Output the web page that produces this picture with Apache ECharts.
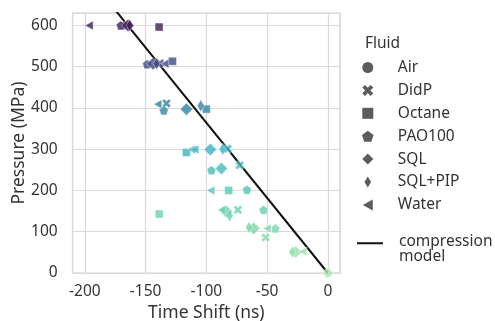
<!DOCTYPE html>
<html><head><meta charset="utf-8">
<script src="https://cdn.jsdelivr.net/npm/echarts@6/dist/echarts.min.js"></script>
<style>html,body{margin:0;padding:0;background:#fff}#c{width:495px;height:321px}</style>
</head><body><div id="c"></div>
<script>
// ---- data (Time Shift ns, Pressure MPa) ----
const airTime = [0];
const airP = [0];
const didpTime = [-165.5, -138.3, -132.8, -82.5, -72.6, -74, -51.2];
const didpP = [600, 508, 411, 301, 261, 153, 86];
const octaneTime = [-138.9, -127.9, -100, -116.4, -81.6, -138.8];
const octaneP = [596, 513, 397, 292, 200, 143];
const paoTime = [-170.4, -148.8, -135, -95.8, -66.6, -52.9, -43.2];
const paoP = [600, 506, 394, 249, 202, 153, 108];
const sqlTime = [-164.5, -143.9, -116.4, -96.7, -87.6, -83.5, -61.1, -26.6];
const sqlP = [600, 507, 397, 299, 253, 149, 108, 51];
const sqlpipTime = [-163, -141, -104.6, -86.6, -80.8, -64.9, -29.3];
const sqlpipP = [600, 507, 405, 300, 139, 110, 51];
const waterTime = [-196.5, -134.2, -140, -112.3, -109.6, -96.4, -87.6, -50.1, -20.6];
const waterP = [600, 507, 409, 299, 299, 200, 153, 108, 52];
const modelTime = [0, -178.5];
const modelP = [0, 650];
const xTicks = [-200, -150, -100, -50, 0];
const yTicks = [0, 100, 200, 300, 400, 500, 600];
const fluids = ['Air', 'DidP', 'Octane', 'PAO100', 'SQL', 'SQL+PIP', 'Water'];

const pair = (t, p) => t.map((v, i) => [v, p[i]]);
const FONT = '"Noto Sans", "Open Sans", sans-serif';
const SYM = {
  'Air': 'circle',
  'DidP': 'path://M0,2.4 L2.4,0 L5,2.6 L7.6,0 L10,2.4 L7.4,5 L10,7.6 L7.6,10 L5,7.4 L2.4,10 L0,7.6 L2.6,5 Z',
  'Octane': 'path://M0,0 L10,0 L10,10 L0,10 Z',
  'PAO100': 'path://M5,0 L10,3.63 L8.09,9.51 L1.91,9.51 L0,3.63 Z',
  'SQL': 'path://M5,0 L10,5 L5,10 L0,5 Z',
  'SQL+PIP': 'path://M3,0 L6,5 L3,10 L0,5 Z',
  'Water': 'path://M0,5 L9,0 L9,10 Z'
};
const SIZE = { 'Air': 9, 'DidP': 9, 'Octane': 8, 'PAO100': 9, 'SQL': 12.5, 'SQL+PIP': [7, 12], 'Water': [8, 9] };
const LINE_ICON = 'path://M0,0 L26,0 L26,2 L0,2 Z M0,14 L0.01,14 L0.01,14.01 Z';

function sc(name, t, p) {
  return {
    name, type: 'scatter', data: pair(t, p), symbol: SYM[name], symbolSize: SIZE[name],
    itemStyle: { color: '#333', borderColor: '#fff', borderWidth: 0.5 },
    z: 3
  };
}

const chart = echarts.init(document.getElementById('c'), null, { renderer: 'canvas' });
chart.setOption({
  animation: false,
  textStyle: { fontFamily: FONT },
  title: {
    text: 'Fluid', left: 365, top: 36, padding: 0,
    textStyle: { fontFamily: FONT, fontSize: 15.5, fontWeight: 'normal', color: '#333' }
  },
  grid: {
    left: 72.7, top: 13, right: 155, bottom: 48, outerBoundsMode: 'none', containLabel: false,
    show: true, borderColor: '#d2d2d2', borderWidth: 1.2
  },
  visualMap: {
    show: false, type: 'continuous', dimension: 1, min: 0, max: 600,
    seriesIndex: [0, 1, 2, 3, 4, 5, 6],
    inRange: { color: ['#b0e8b4', '#7bd9a6', '#55c8b5', '#3bb1c2', '#3585a0', '#3f4f88', '#3e1d5b'] }
  },
  legend: [{
    orient: 'vertical', left: 357, top: 54.5, itemWidth: 26, itemHeight: 11, itemGap: 6.9,
    itemStyle: { borderWidth: 0 },
    textStyle: { fontFamily: FONT, fontSize: 15.5, color: '#333', lineHeight: 14, padding: [0, 0, 0, 12] },
    data: fluids.map(f => ({ name: f, icon: SYM[f] }))
  }, {
    orient: 'vertical', left: 352, top: 229, itemWidth: 26, itemHeight: 14,
    itemStyle: { borderWidth: 0 },
    textStyle: { fontFamily: FONT, fontSize: 15.5, color: '#333', lineHeight: 14.5, padding: [0, 0, 0, 11] },
    data: [{ name: 'compression\nmodel', icon: LINE_ICON }]
  }],
  xAxis: {
    type: 'value', min: -210, max: 10, minInterval: 50, maxInterval: 50,
    name: 'Time Shift (ns)', nameLocation: 'middle', nameGap: 31, nameMoveOverlap: false,
    nameTextStyle: { fontFamily: FONT, fontSize: 17.5, color: '#333' },
    axisLine: { show: false }, axisTick: { show: false },
    axisLabel: { fontFamily: FONT, fontSize: 15.5, color: '#333', margin: 11,
      formatter: v => xTicks.includes(v) ? String(v) : '' },
    splitLine: { show: true, lineStyle: { color: '#d9d9d9', width: 1.2 } }
  },
  yAxis: {
    type: 'value', min: 0, max: 630, interval: 100,
    name: 'Pressure (MPa)', nameLocation: 'middle', nameGap: 45, nameMoveOverlap: false,
    nameTextStyle: { fontFamily: FONT, fontSize: 17.5, color: '#333' },
    axisLine: { show: false }, axisTick: { show: false },
    axisLabel: { fontFamily: FONT, fontSize: 15.5, color: '#333', margin: 15,
      formatter: v => yTicks.includes(v) ? String(v) : '' },
    splitLine: { show: true, lineStyle: { color: '#d9d9d9', width: 1.2 } }
  },
  series: [
    ...[[airTime, airP], [didpTime, didpP], [octaneTime, octaneP], [paoTime, paoP],
        [sqlTime, sqlP], [sqlpipTime, sqlpipP], [waterTime, waterP]]
      .map((d, i) => sc(fluids[i], d[0], d[1])),
    {
      name: 'compression\nmodel', type: 'line', data: pair(modelTime, modelP),
      symbol: 'none', showSymbol: false, clip: true,
      lineStyle: { color: '#111', width: 2 }, itemStyle: { color: '#111' }, z: 2
    }
  ]
});
</script></body></html>
